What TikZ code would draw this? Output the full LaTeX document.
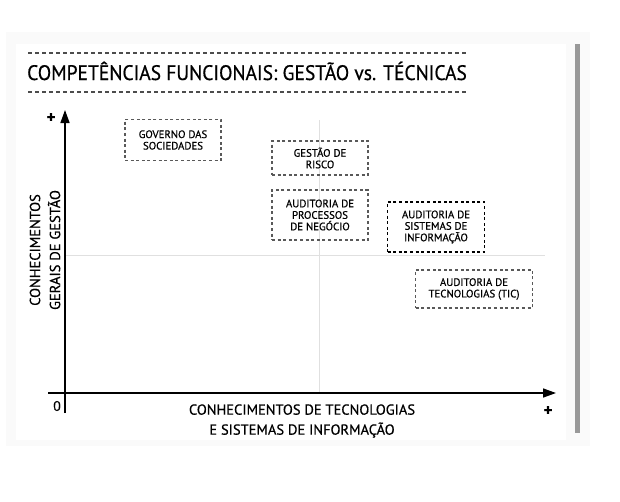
\documentclass[tikz,border=0pt]{standalone}
\usepackage{fontspec}
\setmainfont{PT Sans}[FakeBold=0.6]
\newfontfamily\titulofont{PT Sans}[FakeStretch=0.93, FakeBold=0.6]
\usetikzlibrary{arrows.meta}
\begin{document}
\begin{tikzpicture}[x=1pt, y=-1pt,
	caixa/.style={draw=black!65, dash pattern=on 3pt off 2.6pt, line width=1.3pt,
		align=center, inner sep=0pt, font=\fontsize{10.8}{11.5}\selectfont},
	grelha/.style={black!12, line width=1pt},
	eixo/.style={line width=1.5pt, -{Triangle[length=13pt, width=9pt]}},
	rotulo/.style={font=\fontsize{14.5}{20}\selectfont, align=center}]
	\useasboundingbox (0,0) rectangle (620,501);
	%background
	\fill[black!2] (6,32) rectangle (590,446);
	\fill[white] (16,44) rectangle (566,440);
	\fill[black!40] (575,44) rectangle (580,433);
	%title
	\draw[black!70, line width=1.2pt, dash pattern=on 4pt off 3pt] (28,53) -- (466,53);
	\draw[black!70, line width=1.2pt, dash pattern=on 4pt off 3pt] (28,92) -- (466,92);
	\node[font=\titulofont\fontsize{21}{24}\selectfont] (titulo) at (247,71) {COMPETÊNCIAS FUNCIONAIS: GESTÃO vs. TÉCNICAS};
	%grid
	\draw[grelha] (65,255) -- (545,255);
	\draw[grelha] (319,120) -- (319,393);
	%axis
	\coordinate (origem x) at (48,393);
	\coordinate (fim x) at (556,393);
	\coordinate (origem y) at (65,413);
	\coordinate (fim y) at (65,110);
	\draw[eixo] (origem x) -- (fim x);
	\draw[eixo] (origem y) -- (fim y);
	%labels
	\node[font=\fontsize{14}{14}\selectfont] (zero) at (57,406) {0};
	\node[font=\bfseries\fontsize{17}{17}\selectfont] (mais y) at (51,118) {+};
	\node[font=\bfseries\fontsize{17}{17}\selectfont] (mais x) at (548,411) {+};
	\node[rotulo] (rotulo x) at (302,421) {CONHECIMENTOS DE TECNOLOGIAS\\E SISTEMAS DE INFORMAÇÃO};
	\node[rotulo, rotate=90] (rotulo y) at (45,250) {CONHECIMENTOS\\GERAIS DE GESTÃO};
	%boxes
	\node[caixa, minimum width=96pt, minimum height=41pt] (governo) at (173,140) {GOVERNO DAS\\SOCIEDADES};
	\node[caixa, minimum width=96pt, minimum height=34pt] (risco) at (320,158) {GESTÃO DE\\RISCO};
	\node[caixa, minimum width=96pt, minimum height=50pt] (processos) at (320,215) {AUDITORIA DE\\PROCESSOS\\DE NEGÓCIO};
	\node[caixa, draw=black, line width=1.6pt, minimum width=97pt, minimum height=50pt] (sistemas) at (436,227) {AUDITORIA DE\\SISTEMAS DE\\INFORMAÇÃO};
	\node[caixa, minimum width=117pt, minimum height=38pt] (tic) at (474,289) {AUDITORIA DE\\TECNOLOGIAS (TIC)};
\end{tikzpicture}
\end{document}
